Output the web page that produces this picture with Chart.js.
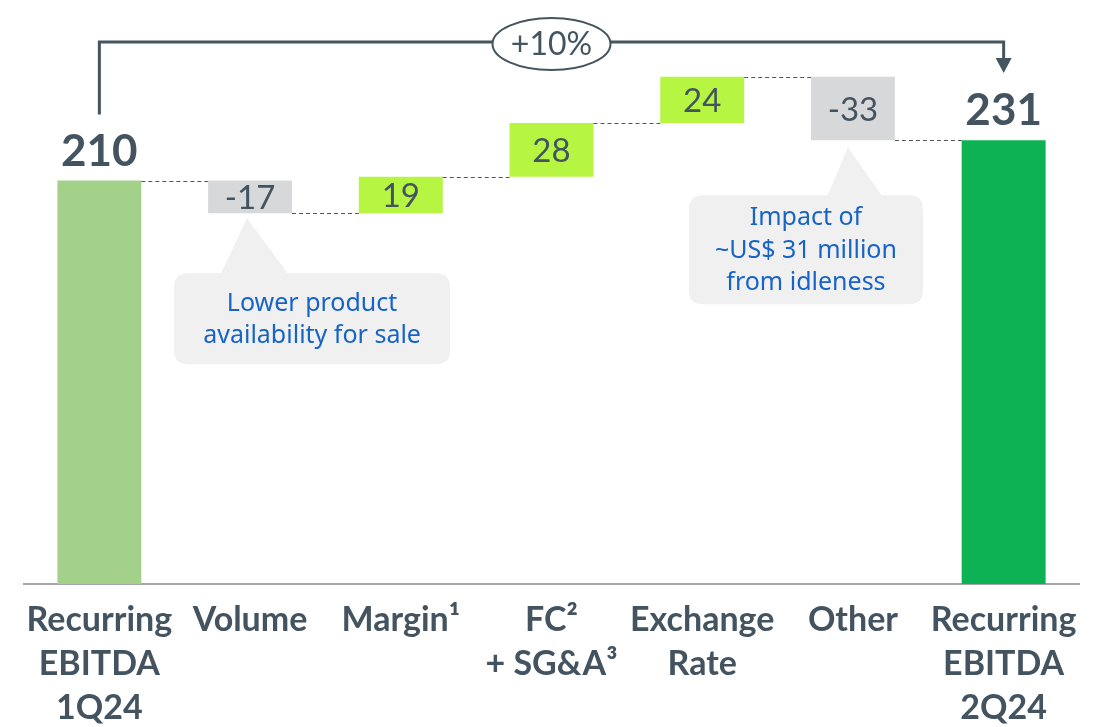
<!DOCTYPE html>
<html>
<head>
<meta charset="utf-8">
<script src="https://cdn.jsdelivr.net/npm/chart.js@4.4.1/dist/chart.umd.min.js"></script>
<style>
  html, body { margin: 0; padding: 0; background: #fff; }
  #wrap { width: 1107px; height: 727px; position: relative; }
</style>
</head>
<body>
<div id="wrap"><canvas id="myChart"></canvas></div>
<script>
// values
let categories = [
  ["Recurring", "EBITDA", "1Q24"],
  "Volume",
  "Margin¹",
  ["FC²", "+ SG&A³"],
  ["Exchange", "Rate"],
  "Other",
  ["Recurring", "EBITDA", "2Q24"],
];
let startValue = 210;
let steps = [-17, 19, 28, 24, -33];
let endValue = 231;
let growthLabel = "+10%";
let noteVolume = ["Lower product", "availability for sale"];
let noteOther = ["Impact of", "~US$ 31 million", "from idleness"];

const textColor = "#43535f";
const startColor = "#a3d18a";
const endColor = "#0db254";
const upColor = "#b6f541";
const downColor = "#d7d8da";

// floating ranges for the waterfall
let ranges = [[0, startValue]];
let levels = [startValue];
let run = startValue;
for (const s of steps) {
  ranges.push([Math.min(run, run + s), Math.max(run, run + s)]);
  run += s;
  levels.push(run);
}
ranges.push([0, endValue]);
levels.push(endValue);

let colors = [startColor, ...steps.map((s) => (s < 0 ? downColor : upColor)), endColor];

function roundRect(c, x, y, w, h, r) {
  c.beginPath();
  c.moveTo(x + r, y);
  c.lineTo(x + w - r, y);
  c.quadraticCurveTo(x + w, y, x + w, y + r);
  c.lineTo(x + w, y + h - r);
  c.quadraticCurveTo(x + w, y + h, x + w - r, y + h);
  c.lineTo(x + r, y + h);
  c.quadraticCurveTo(x, y + h, x, y + h - r);
  c.lineTo(x, y + r);
  c.quadraticCurveTo(x, y, x + r, y);
  c.closePath();
}

function callout(c, apexX, apexY, bx, by, bw, bh, baseL, baseR, lines, lineGap) {
  c.save();
  c.fillStyle = "#f0f0f0";
  c.beginPath();
  c.moveTo(apexX, apexY);
  c.lineTo(baseR, by + 2);
  c.lineTo(baseL, by + 2);
  c.closePath();
  c.fill();
  roundRect(c, bx, by, bw, bh, 14);
  c.fill();
  c.fillStyle = "#1763c6";
  c.font = "25px 'Noto Sans'";
  c.textAlign = "center";
  c.textBaseline = "middle";
  let mid = by + bh / 2 + 1;
  let first = mid - ((lines.length - 1) * lineGap) / 2;
  lines.forEach((t, i) => c.fillText(t, bx + bw / 2, first + i * lineGap));
  c.restore();
}

const waterfallExtras = {
  id: "waterfallExtras",
  afterDatasetsDraw(chart) {
    let c = chart.ctx;
    let y = chart.scales.y;
    let bars = chart.getDatasetMeta(0).data;

    // dashed connectors
    c.save();
    c.strokeStyle = "#555";
    c.lineWidth = 1.2;
    c.setLineDash([4, 3]);
    for (let i = 0; i < bars.length - 1; i++) {
      let yy = Math.round(y.getPixelForValue(levels[i])) + 0.5;
      c.beginPath();
      c.moveTo(bars[i].x + bars[i].width / 2, yy);
      c.lineTo(bars[i + 1].x - bars[i + 1].width / 2, yy);
      c.stroke();
    }
    c.restore();

    // value labels
    c.save();
    c.fillStyle = textColor;
    c.textAlign = "center";
    c.textBaseline = "alphabetic";
    bars.forEach((b, i) => {
      if (i === 0 || i === bars.length - 1) {
        c.font = "bold 44px Lato";
        let v = i === 0 ? startValue : endValue;
        c.fillText(String(v), b.x, b.y - 15);
      } else {
        c.font = "33px Lato";
        let mid = (b.y + b.base) / 2;
        c.fillText(String(steps[i - 1]), b.x, mid + 12);
      }
    });
    c.restore();

    // growth bracket
    let x0 = bars[0].x;
    let x1 = bars[bars.length - 1].x;
    let top = chart.chartArea.top + 42;
    c.save();
    c.strokeStyle = "#44555f";
    c.fillStyle = "#44555f";
    c.lineWidth = 3;
    c.beginPath();
    c.moveTo(x0, bars[0].y - 66);
    c.lineTo(x0, top);
    c.lineTo(x1, top);
    c.lineTo(x1, top + 17);
    c.stroke();
    c.beginPath();
    c.moveTo(x1 - 8, top + 16);
    c.lineTo(x1 + 8, top + 16);
    c.lineTo(x1, top + 31);
    c.closePath();
    c.fill();
    let ex = (x0 + x1) / 2;
    c.beginPath();
    c.ellipse(ex, top + 2, 59, 26, 0, 0, Math.PI * 2);
    c.fillStyle = "#fff";
    c.fill();
    c.lineWidth = 2;
    c.stroke();
    c.fillStyle = textColor;
    c.font = "32px Lato";
    c.textAlign = "center";
    c.textBaseline = "alphabetic";
    c.fillText(growthLabel, ex, top + 13);
    c.restore();

    // callouts
    let bv = bars[1];
    callout(c, bv.x - 3, bv.base + 5, bv.x - 76, bv.base + 60, 276, 91,
      bv.x - 30, bv.x + 39, noteVolume, 32);
    let bo = bars[5];
    let boBottom = Math.max(bo.y, bo.base);
    callout(c, bo.x - 5, boBottom + 7, bo.x - 164, boBottom + 55, 234, 109,
      bo.x - 26, bo.x + 30, noteOther, 32.5);
  },
};

let ctx = document.getElementById("myChart").getContext("2d");
let myChart = new Chart(ctx, {
  type: "bar",
  data: {
    labels: categories,
    datasets: [
      {
        data: ranges,
        backgroundColor: colors,
        borderWidth: 0,
        borderSkipped: false,
        categoryPercentage: 1,
        barPercentage: 0.557,
      },
    ],
  },
  options: {
    responsive: true,
    maintainAspectRatio: false,
    animation: false,
    layout: { padding: { left: 24, right: 28, top: 0, bottom: 0 } },
    plugins: { legend: { display: false }, tooltip: { enabled: false } },
    scales: {
      x: {
        grid: { display: false, drawTicks: false },
        border: { display: true, color: "#a6a6a6", width: 2 },
        ticks: {
          color: textColor,
          font: { family: "Lato", weight: "bold", size: 34, lineHeight: 1.3 },
          padding: 14,
          maxRotation: 0,
          autoSkip: false,
        },
        afterFit(scale) {
          scale.height = 143;
        },
      },
      y: {
        display: false,
        min: 0,
        max: 304,
      },
    },
  },
  plugins: [waterfallExtras],
});
</script>
</body>
</html>
